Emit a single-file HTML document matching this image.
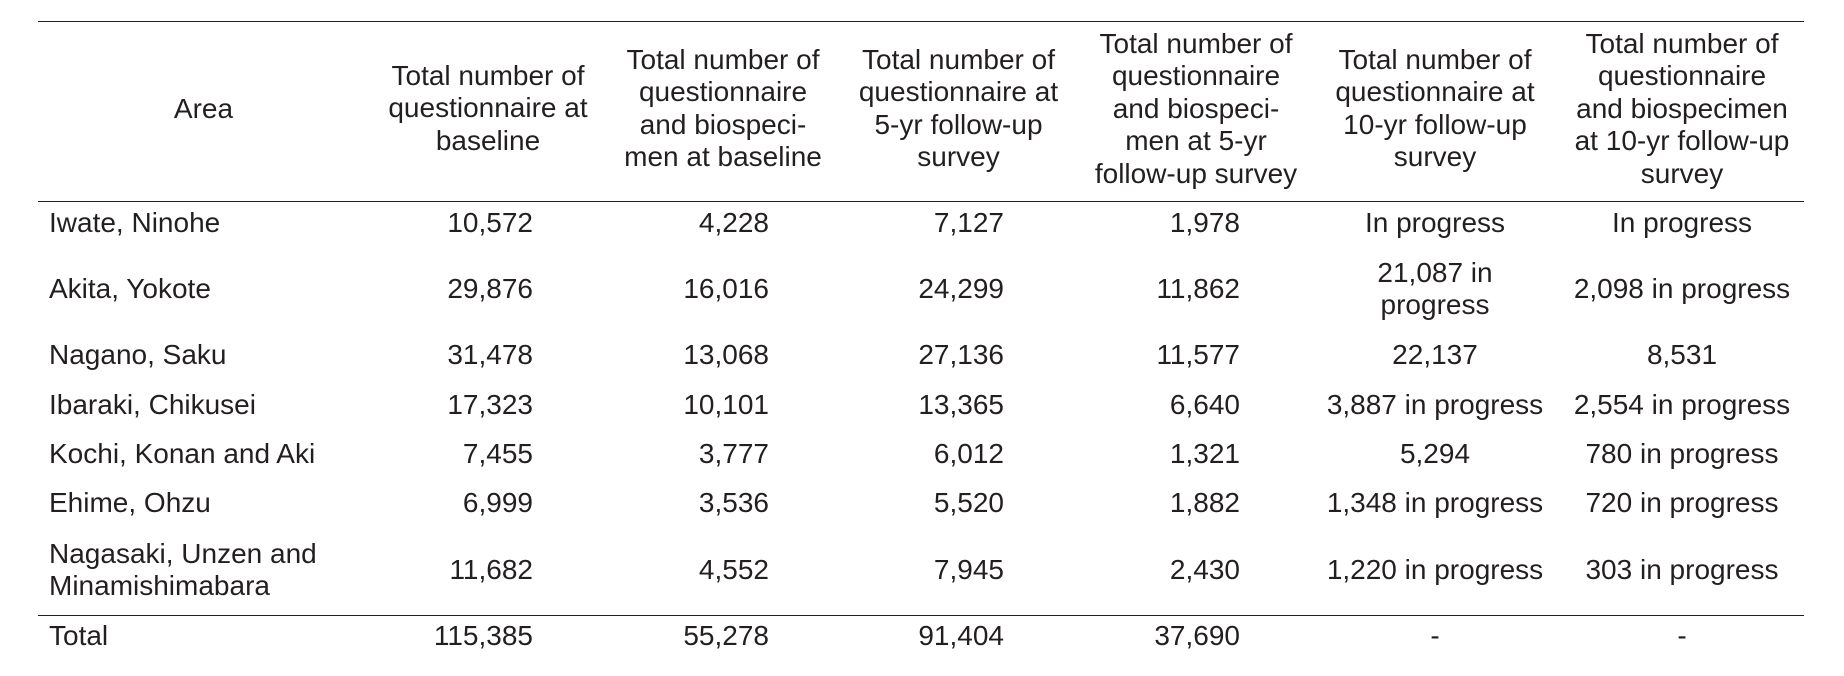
<!DOCTYPE html>
<html>
<head>
<meta charset="utf-8">
<style>
  html, body { margin:0; padding:0; background:#fff; }
  body { width:1844px; height:676px; position:relative; overflow:hidden;
         font-family:"Liberation Sans", Arial, Helvetica, sans-serif; color:#231f20; }
  .ln { position:absolute; left:38px; width:1766px; height:1.5px; background:#231f20; }
  .c { position:absolute; font-size:28px; line-height:32.4px; white-space:nowrap; }
  .ctr { text-align:center; width:400px; }
  .r { text-align:right; width:300px; }
  .l { text-align:left; }
</style>
</head>
<body>
<div class="ln" style="top:20.5px"></div>
<div class="ln" style="top:200.5px"></div>
<div class="ln" style="top:614.5px"></div>

<!-- Header (center y ~109) -->
<div class="c ctr" style="left:3.5px; top:93px;">Area</div>
<div class="c ctr" style="left:288px; top:60px;">Total number of<br>questionnaire at<br>baseline</div>
<div class="c ctr" style="left:523px; top:44px;">Total number of<br>questionnaire<br>and biospeci-<br>men at baseline</div>
<div class="c ctr" style="left:758.5px; top:44px;">Total number of<br>questionnaire at<br>5-yr follow-up<br>survey</div>
<div class="c ctr" style="left:996px; top:28px;">Total number of<br>questionnaire<br>and biospeci-<br>men at 5-yr<br>follow-up survey</div>
<div class="c ctr" style="left:1235px; top:44px;">Total number of<br>questionnaire at<br>10-yr follow-up<br>survey</div>
<div class="c ctr" style="left:1482px; top:28px;">Total number of<br>questionnaire<br>and biospecimen<br>at 10-yr follow-up<br>survey</div>

<!-- Row: Iwate (cy 223) -->
<div class="c l" style="left:49px; top:207px;">Iwate, Ninohe</div>
<div class="c r" style="left:233px; top:207px;">10,572</div>
<div class="c r" style="left:469px; top:207px;">4,228</div>
<div class="c r" style="left:704px; top:207px;">7,127</div>
<div class="c r" style="left:940px; top:207px;">1,978</div>
<div class="c ctr" style="left:1235px; top:207px;">In progress</div>
<div class="c ctr" style="left:1482px; top:207px;">In progress</div>

<!-- Row: Akita (cy 289) -->
<div class="c l" style="left:49px; top:273px;">Akita, Yokote</div>
<div class="c r" style="left:233px; top:273px;">29,876</div>
<div class="c r" style="left:469px; top:273px;">16,016</div>
<div class="c r" style="left:704px; top:273px;">24,299</div>
<div class="c r" style="left:940px; top:273px;">11,862</div>
<div class="c ctr" style="left:1235px; top:257px;">21,087 in<br>progress</div>
<div class="c ctr" style="left:1482px; top:273px;">2,098 in progress</div>

<!-- Row: Nagano (cy 355) -->
<div class="c l" style="left:49px; top:339px;">Nagano, Saku</div>
<div class="c r" style="left:233px; top:339px;">31,478</div>
<div class="c r" style="left:469px; top:339px;">13,068</div>
<div class="c r" style="left:704px; top:339px;">27,136</div>
<div class="c r" style="left:940px; top:339px;">11,577</div>
<div class="c ctr" style="left:1235px; top:339px;">22,137</div>
<div class="c ctr" style="left:1482px; top:339px;">8,531</div>

<!-- Row: Ibaraki (cy 405) -->
<div class="c l" style="left:49px; top:389px;">Ibaraki, Chikusei</div>
<div class="c r" style="left:233px; top:389px;">17,323</div>
<div class="c r" style="left:469px; top:389px;">10,101</div>
<div class="c r" style="left:704px; top:389px;">13,365</div>
<div class="c r" style="left:940px; top:389px;">6,640</div>
<div class="c ctr" style="left:1235px; top:389px;">3,887 in progress</div>
<div class="c ctr" style="left:1482px; top:389px;">2,554 in progress</div>

<!-- Row: Kochi (cy 454) -->
<div class="c l" style="left:49px; top:438px;">Kochi, Konan and Aki</div>
<div class="c r" style="left:233px; top:438px;">7,455</div>
<div class="c r" style="left:469px; top:438px;">3,777</div>
<div class="c r" style="left:704px; top:438px;">6,012</div>
<div class="c r" style="left:940px; top:438px;">1,321</div>
<div class="c ctr" style="left:1235px; top:438px;">5,294</div>
<div class="c ctr" style="left:1482px; top:438px;">780 in progress</div>

<!-- Row: Ehime (cy 503) -->
<div class="c l" style="left:49px; top:487px;">Ehime, Ohzu</div>
<div class="c r" style="left:233px; top:487px;">6,999</div>
<div class="c r" style="left:469px; top:487px;">3,536</div>
<div class="c r" style="left:704px; top:487px;">5,520</div>
<div class="c r" style="left:940px; top:487px;">1,882</div>
<div class="c ctr" style="left:1235px; top:487px;">1,348 in progress</div>
<div class="c ctr" style="left:1482px; top:487px;">720 in progress</div>

<!-- Row: Nagasaki (cy 570) -->
<div class="c l" style="left:49px; top:538px;">Nagasaki, Unzen and<br>Minamishimabara</div>
<div class="c r" style="left:233px; top:554px;">11,682</div>
<div class="c r" style="left:469px; top:554px;">4,552</div>
<div class="c r" style="left:704px; top:554px;">7,945</div>
<div class="c r" style="left:940px; top:554px;">2,430</div>
<div class="c ctr" style="left:1235px; top:554px;">1,220 in progress</div>
<div class="c ctr" style="left:1482px; top:554px;">303 in progress</div>

<!-- Total (cy 636) -->
<div class="c l" style="left:49px; top:620px;">Total</div>
<div class="c r" style="left:233px; top:620px;">115,385</div>
<div class="c r" style="left:469px; top:620px;">55,278</div>
<div class="c r" style="left:704px; top:620px;">91,404</div>
<div class="c r" style="left:940px; top:620px;">37,690</div>
<div class="c ctr" style="left:1235px; top:620px;">-</div>
<div class="c ctr" style="left:1482px; top:620px;">-</div>
</body>
</html>
